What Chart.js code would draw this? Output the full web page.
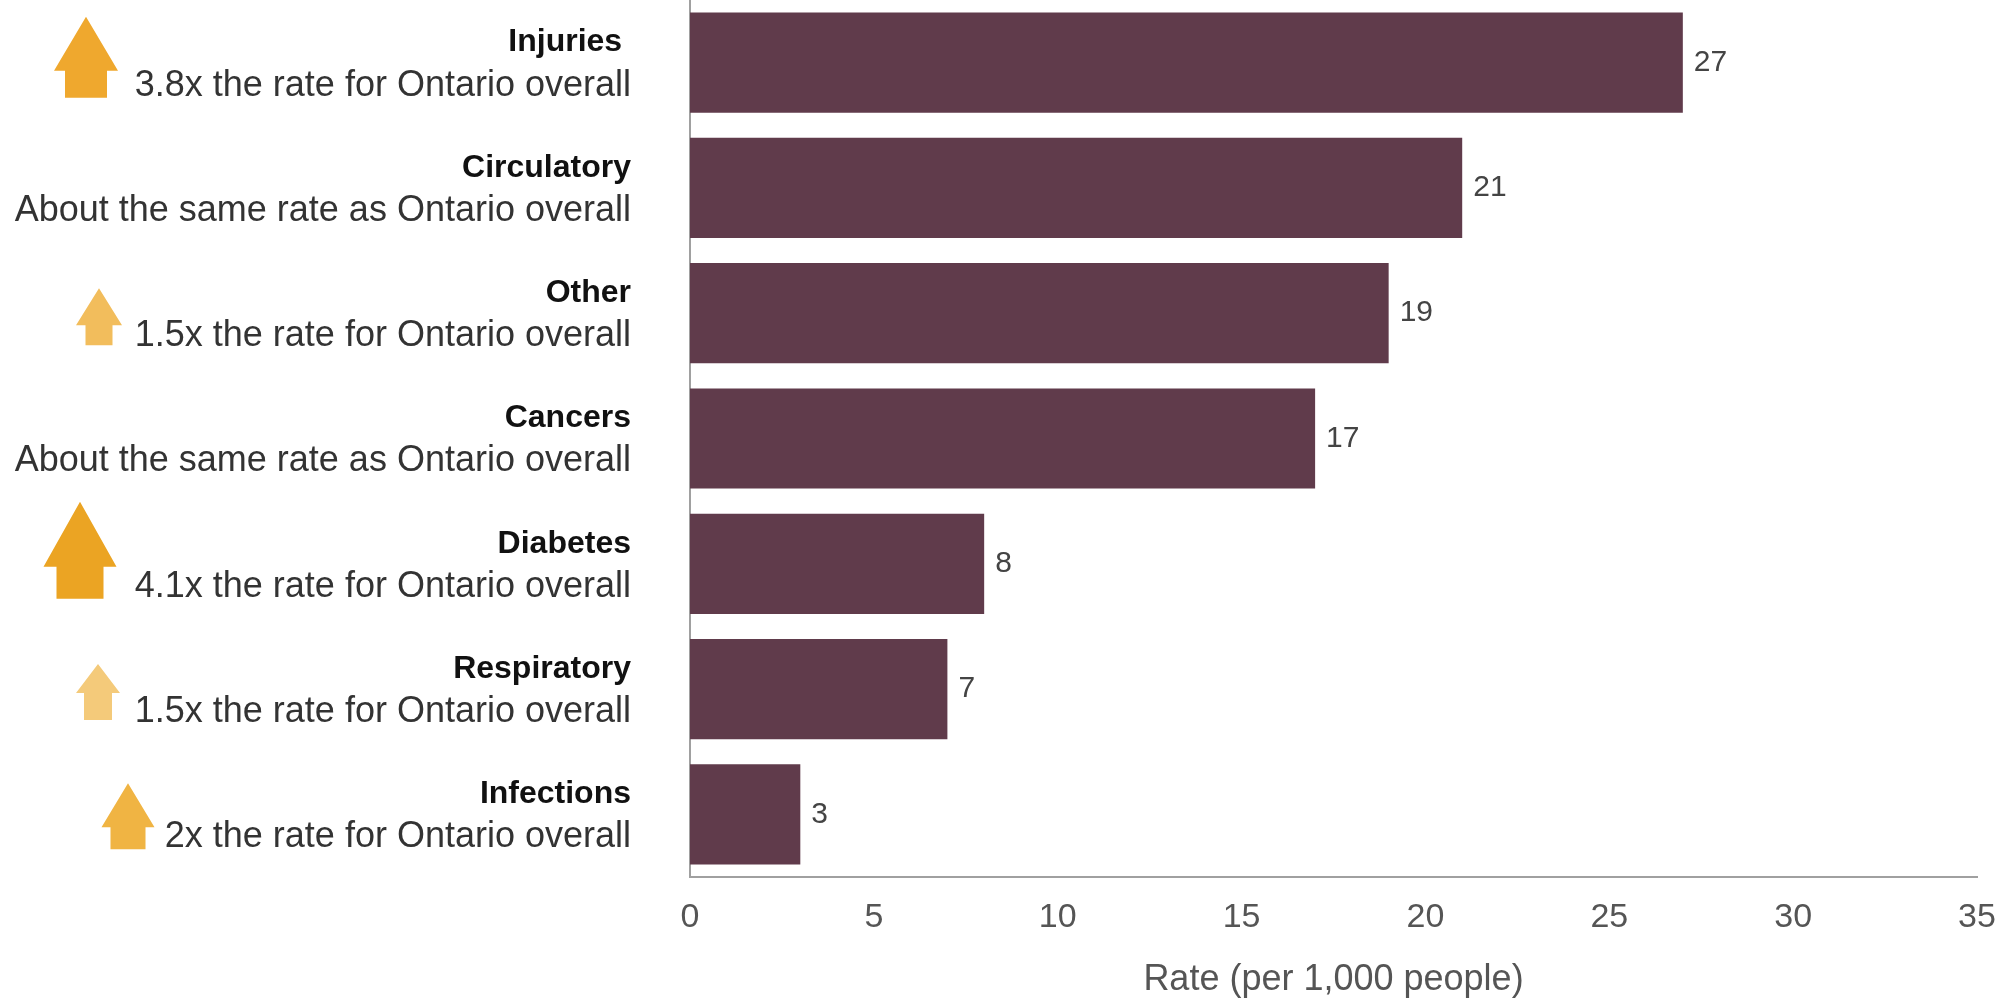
<!DOCTYPE html>
<html>
<head>
<meta charset="utf-8">
<script src="https://cdn.jsdelivr.net/npm/chart.js@4.4.0/dist/chart.umd.min.js"></script>
<style>
    html, body { margin: 0; padding: 0; background: #fff; }
</style>
</head>
<body>
<canvas id="rates" width="2010" height="1000"></canvas>
<script>
// data
const categories = ['Injuries ', 'Circulatory', 'Other', 'Cancers', 'Diabetes', 'Respiratory', 'Infections'];
const comparisons = [
    '3.8x the rate for Ontario overall',
    'About the same rate as Ontario overall',
    '1.5x the rate for Ontario overall',
    'About the same rate as Ontario overall',
    '4.1x the rate for Ontario overall',
    '1.5x the rate for Ontario overall',
    '2x the rate for Ontario overall'
];
const rates = [27, 21, 19, 17, 8, 7, 3];
const xTicks = [0, 5, 10, 15, 20, 25, 30, 35];

const FONT = '"Liberation Sans", Arial, sans-serif';

// arrow look per category (x centre, offsets from the row centre, half widths)
const arrowStyles = {
    'Injuries ':   {cx: 86,  tip: -46, neck: 8,  base: 35, head: 32,   shaft: 21,   color: '#efa82e'},
    'Other':       {cx: 99,  tip: -25, neck: 12, base: 32, head: 23,   shaft: 13.5, color: '#f2bd5c'},
    'Diabetes':    {cx: 80,  tip: -62, neck: 3,  base: 35, head: 36.5, shaft: 23.5, color: '#eba423'},
    'Respiratory': {cx: 98,  tip: -25, neck: 4,  base: 31, head: 22,   shaft: 14,   color: '#f4ca7a'},
    'Infections':  {cx: 128, tip: -31, neck: 13, base: 35, head: 26.5, shaft: 17.5, color: '#f0b443'}
};

const rowLabels = {
    id: 'rowLabels',
    afterDraw(chart) {
        const ctx = chart.ctx;
        const y = chart.scales.y;
        const right = chart.chartArea.left - 59;
        ctx.save();
        categories.forEach((cat, i) => {
            const cy = y.getPixelForValue(i);

            const a = arrowStyles[cat];
            if (a) {
                ctx.fillStyle = a.color;
                ctx.beginPath();
                ctx.moveTo(a.cx, cy + a.tip);
                ctx.lineTo(a.cx + a.head, cy + a.neck);
                ctx.lineTo(a.cx + a.shaft, cy + a.neck);
                ctx.lineTo(a.cx + a.shaft, cy + a.base);
                ctx.lineTo(a.cx - a.shaft, cy + a.base);
                ctx.lineTo(a.cx - a.shaft, cy + a.neck);
                ctx.lineTo(a.cx - a.head, cy + a.neck);
                ctx.closePath();
                ctx.fill();
            }

            ctx.textAlign = 'right';
            ctx.textBaseline = 'middle';
            ctx.fillStyle = '#111';
            ctx.font = 'bold 32px ' + FONT;
            ctx.fillText(cat, right, cy - 20);
            ctx.fillStyle = '#333';
            ctx.font = '36px ' + FONT;
            ctx.fillText(comparisons[i], right, cy + 23);
        });
        ctx.restore();
    }
};

const valueLabels = {
    id: 'valueLabels',
    afterDatasetsDraw(chart) {
        const ctx = chart.ctx;
        const meta = chart.getDatasetMeta(0);
        ctx.save();
        ctx.font = '30px ' + FONT;
        ctx.fillStyle = '#444';
        ctx.textAlign = 'left';
        ctx.textBaseline = 'middle';
        meta.data.forEach((bar, i) => {
            ctx.fillText(String(rates[i]), bar.x + 11, bar.y);
        });
        ctx.restore();
    }
};

new Chart(document.getElementById('rates'), {
    type: 'bar',
    data: {
        labels: categories,
        datasets: [{
            data: rates,
            backgroundColor: '#603b4b',
            barPercentage: 0.8,
            categoryPercentage: 1.0
        }]
    },
    options: {
        indexAxis: 'y',
        responsive: false,
        animation: false,
        layout: {
            padding: {left: 690, right: 33, top: 0, bottom: 0}
        },
        plugins: {
            legend: {display: false},
            tooltip: {enabled: false}
        },
        scales: {
            x: {
                min: 0,
                max: 35,
                afterBuildTicks: scale => {
                    scale.ticks = xTicks.map(v => ({value: v}));
                },
                afterFit: scale => {
                    scale.height = 123;
                    scale.paddingRight = 0;
                },
                grid: {display: false, drawTicks: false},
                border: {display: true, color: '#a0a0a0', width: 2},
                ticks: {
                    color: '#555',
                    padding: 20,
                    maxRotation: 0,
                    font: {family: FONT, size: 34}
                },
                title: {
                    display: true,
                    text: 'Rate (per 1,000 people)',
                    color: '#555',
                    padding: {top: 0, bottom: -2},
                    font: {family: FONT, size: 36}
                }
            },
            y: {
                grid: {display: false, drawTicks: false},
                border: {display: true, color: '#a0a0a0', width: 2},
                ticks: {display: false}
            }
        }
    },
    plugins: [rowLabels, valueLabels]
});
</script>
</body>
</html>
